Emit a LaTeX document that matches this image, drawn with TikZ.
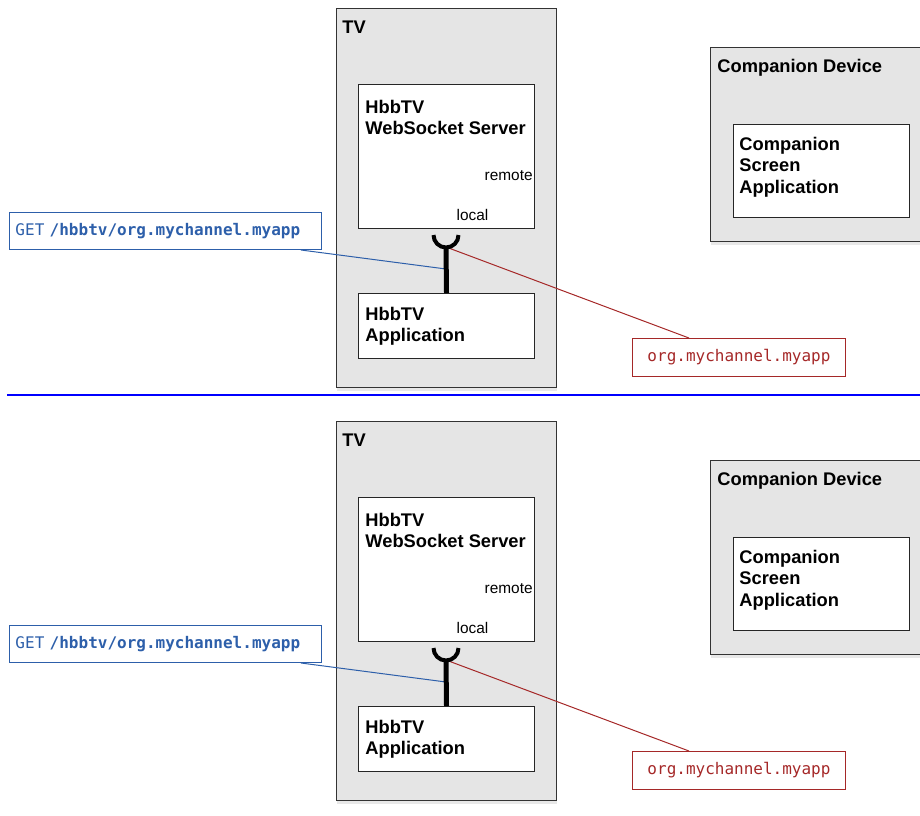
\documentclass[tikz,border=0pt]{standalone}
\usepackage{fontspec}
\setmainfont{Liberation Sans}
\setmonofont{DejaVu Sans Mono}
\usepackage{tikz}
\usetikzlibrary{positioning,shadows}
\definecolor{getblue}{RGB}{45,95,170}
\definecolor{idred}{RGB}{165,40,40}

\begin{document}
\begin{tikzpicture}[
  x=0.5pt, y=-0.5pt,
  dev/.style={draw=black!80, fill=black!10, line width=0.6pt, anchor=north west, inner sep=0pt,
    drop shadow={shadow xshift=0.4pt, shadow yshift=-1.5pt, opacity=0.18}},
  comp/.style={draw=black!85, fill=white, line width=0.5pt, anchor=north west, inner sep=0pt},
  ttl/.style={font=\fontsize{9.15}{10.8}\selectfont\bfseries, align=left, anchor=base west, inner sep=0pt},
  port/.style={font=\fontsize{7.7}{9}\selectfont, inner sep=0pt},
  idbox/.style={draw=#1, text=#1, line width=0.5pt, font=\fontsize{8}{9}\selectfont\ttfamily, anchor=north west},
  sockline/.style={line width=2pt},
  stem/.style={line width=2.5pt},
  tapline/.style={line width=0.5pt}
]
\useasboundingbox (0,0) rectangle (920,815);
% both halves of the figure are the same
\foreach \h/\dy in {a/0, b/413}{
\begin{scope}[shift={(0,\dy)}]
\node[dev, minimum width=110pt, minimum height=189.5pt] (tv\h) at (336,8) {};
\node[ttl] (tvname\h) at ([shift={(6,25)}]tv\h.north west) {TV};
\node[comp, minimum width=88pt, minimum height=72pt] (ws\h) at (358,84) {};
\node[ttl] (wsname\h) at ([shift={(7,50.6)}]ws\h.north west) {HbbTV\\WebSocket Server};
\node[port, anchor=base east] (remote\h) at ([shift={(-2,96)}]ws\h.north east) {remote};
\node[port, anchor=base] (local\h) at ([shift={(-62.5,136)}]ws\h.north east) {local};
\node[comp, minimum width=88pt, minimum height=32.5pt] (app\h) at (358,293) {};
\node[ttl] (appname\h) at ([shift={(7,48.6)}]app\h.north west) {HbbTV\\Application};
% companion side
\node[dev, minimum width=107.5pt, minimum height=97pt] (cd\h) at (710,47) {};
\node[ttl] (cdname\h) at ([shift={(7,25)}]cd\h.north west) {Companion Device};
\node[comp, minimum width=88pt, minimum height=46.5pt] (csa\h) at (733,124) {};
\node[ttl] (csaname\h) at ([shift={(6,69.2)}]csa\h.north west) {Companion\\Screen\\Application};
% callouts
\node[idbox=getblue, minimum height=18.5pt, text width=150pt, inner xsep=3pt, inner ysep=0pt, align=left] (get\h) at (9,212)
  {GET \textbf{/hbbtv/org.mychannel.myapp}};
\node[idbox=idred, minimum width=106.5pt, minimum height=19pt, inner sep=0pt] (id\h) at (632,338) {org.mychannel.myapp};
\coordinate (sock\h) at (446,235);
\coordinate (cup\h) at (446,247);
\coordinate (tap\h) at (446,269);
\draw[tapline, getblue] ([xshift=-10.5pt]get\h.south east) -- (tap\h);
\draw[tapline, idred] (cup\h) -- ([xshift=28.5pt]id\h.north west);
% socket between server and app
\draw[stem] (app\h.north) -- (cup\h);
\draw[sockline] ([xshift=-6.25pt]sock\h) arc[start angle=180, end angle=360, radius=6.25pt];
\end{scope}
}
\draw[blue, line width=1pt] (7,395) -- (920,395);
\end{tikzpicture}
\end{document}
